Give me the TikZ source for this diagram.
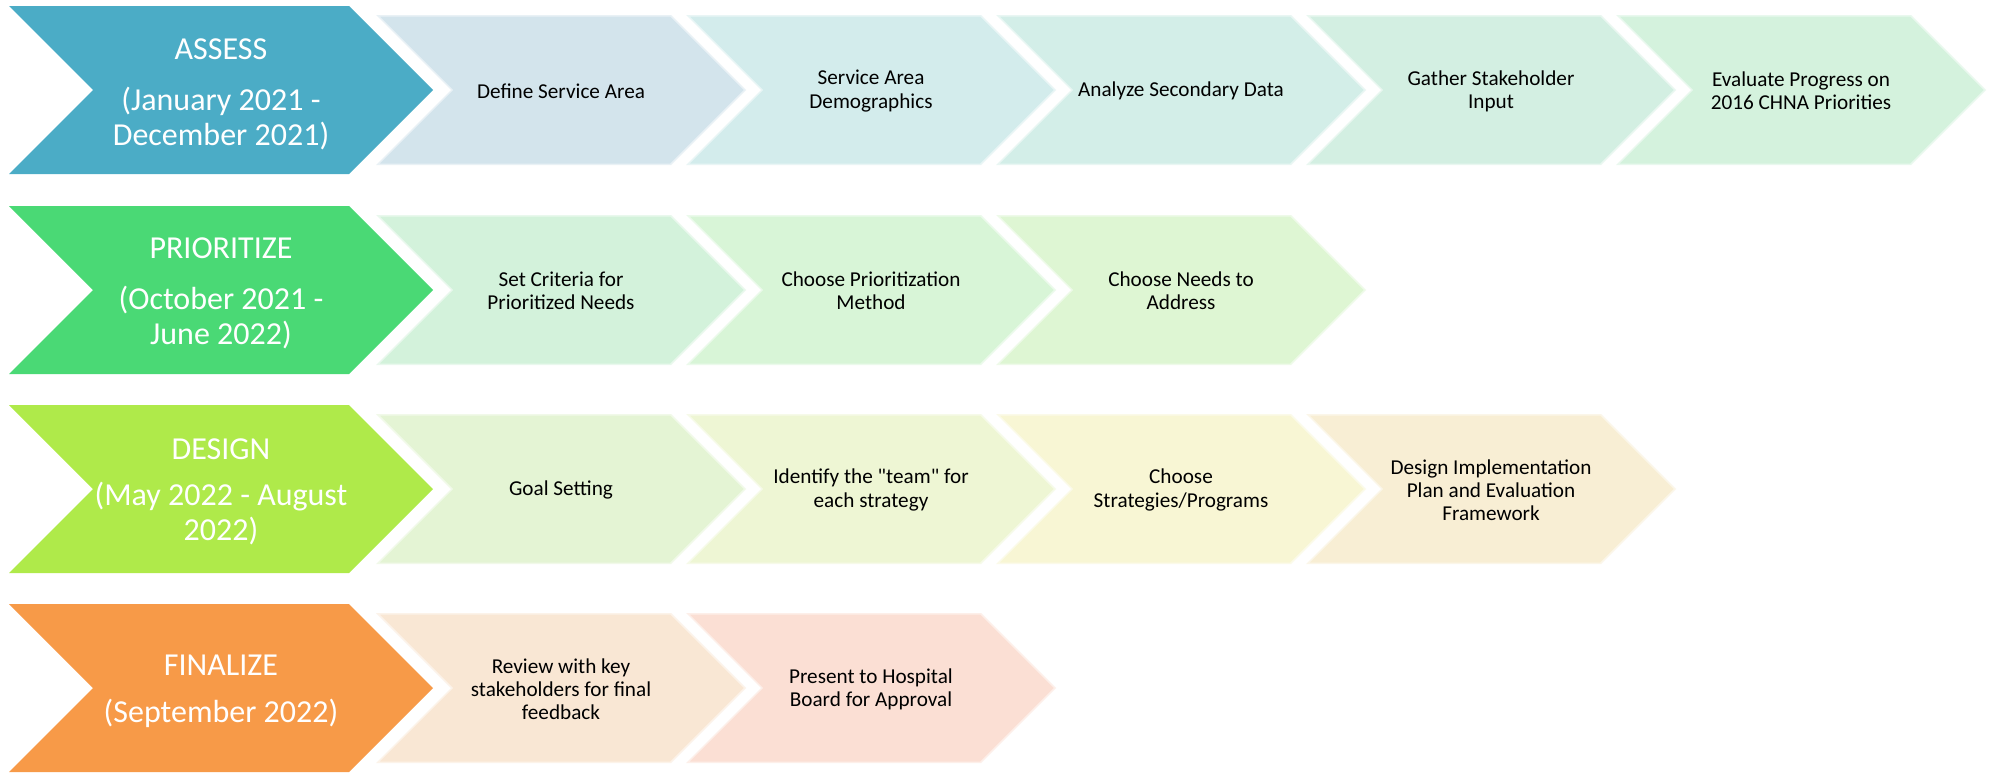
\documentclass[tikz,border=0pt]{standalone}
\usepackage{fontspec}
\setmainfont{Carlito}[Ligatures=TeXOff]
\usepackage{tikz}
\usetikzlibrary{positioning}

% phase colours
\definecolor{assess}{HTML}{4BACC6}
\definecolor{prior}{HTML}{4AD975}
\definecolor{design}{HTML}{AFEA4A}
\definecolor{final}{HTML}{F79A48}
% task tints
\definecolor{a1}{HTML}{D3E4EC}
\definecolor{a2}{HTML}{D3ECEC}
\definecolor{a3}{HTML}{D3EEE8}
\definecolor{a4}{HTML}{D3EFE2}
\definecolor{a5}{HTML}{D4F2DD}
\definecolor{p1}{HTML}{D3F2DB}
\definecolor{p2}{HTML}{D8F5D7}
\definecolor{p3}{HTML}{DEF6D3}
\definecolor{d1}{HTML}{E4F4D4}
\definecolor{d2}{HTML}{EEF6D4}
\definecolor{d3}{HTML}{F8F6D4}
\definecolor{d4}{HTML}{F8EED4}
\definecolor{f1}{HTML}{F9E7D4}
\definecolor{f2}{HTML}{FBDFD4}

\tikzset{
  phase/.style={text=white, align=center, font=\fontsize{16}{17.5}\selectfont},
  task/.style={text=black, align=center, font=\fontsize{10.6}{11.6}\selectfont},
  tab/.style={draw=white, draw opacity=0.5, line width=1.5}
}

\begin{document}
\begin{tikzpicture}[x=0.5pt, y=-0.5pt]
        \useasboundingbox (0,0) rectangle (2002,776);

        % Phase arrows
        \foreach \t/\c in {6/assess,206/prior,405/design,604/final}
            \fill[\c] (9,\t) -- (349,\t) -- (433,\t+84) -- (349,\t+168) -- (9,\t+168) -- (93,\t+84) -- cycle;
        \node[phase] (assess) at (221,94) {ASSESS\\[8pt](January 2021 -\\December 2021)};
        \node[phase] (prior) at (221,293) {PRIORITIZE\\[8pt](October 2021 -\\June 2022)};
        \node[phase] (design) at (221,492) {DESIGN\\[5.5pt](May 2022 - August\\2022)};
        \node[phase] (final) at (221,691) {FINALIZE\\[6pt](September 2022)};

        % Assess
        \foreach \i/\c/\txt in {0/a1/{Define Service Area}, 1/a2/{Service Area\\Demographics},
                2/a3/{Analyze Secondary Data}, 3/a4/{Gather Stakeholder\\Input},
                4/a5/{Evaluate Progress on\\2016 CHNA Priorities}} {
            \filldraw[fill=\c, tab] (376+310*\i,15) -- ++(295,0) -- ++(75,75) -- ++(-75,75) -- ++(-295,0) -- ++(75,-75) -- cycle;
            \node[task] (assess\i) at (561+310*\i,91) {\txt};
        }

        % Prioritize
        \foreach \i/\c/\txt in {0/p1/{Set Criteria for\\Prioritized Needs}, 1/p2/{Choose Prioritization\\Method},
                2/p3/{Choose Needs to\\Address}} {
            \filldraw[fill=\c, tab] (376+310*\i,215) -- ++(295,0) -- ++(75,75) -- ++(-75,75) -- ++(-295,0) -- ++(75,-75) -- cycle;
            \node[task] (prior\i) at (561+310*\i,291) {\txt};
        }

        % Design
        \foreach \i/\c/\txt in {0/d1/{Goal Setting}, 1/d2/{Identify the "team" for\\each strategy},
                2/d3/{Choose\\Strategies/Programs}, 3/d4/{Design Implementation\\Plan and Evaluation\\Framework}} {
            \filldraw[fill=\c, tab] (376+310*\i,414) -- ++(295,0) -- ++(75,75) -- ++(-75,75) -- ++(-295,0) -- ++(75,-75) -- cycle;
            \node[task] (design\i) at (561+310*\i,490) {\txt};
        }

        % Finalize
        \foreach \i/\c/\txt in {0/f1/{Review with key\\stakeholders for final\\feedback}, 1/f2/{Present to Hospital\\Board for Approval}} {
            \filldraw[fill=\c, tab] (376+310*\i,613) -- ++(295,0) -- ++(75,75) -- ++(-75,75) -- ++(-295,0) -- ++(75,-75) -- cycle;
            \node[task] (final\i) at (561+310*\i,689) {\txt};
        }
    \end{tikzpicture}
\end{document}
